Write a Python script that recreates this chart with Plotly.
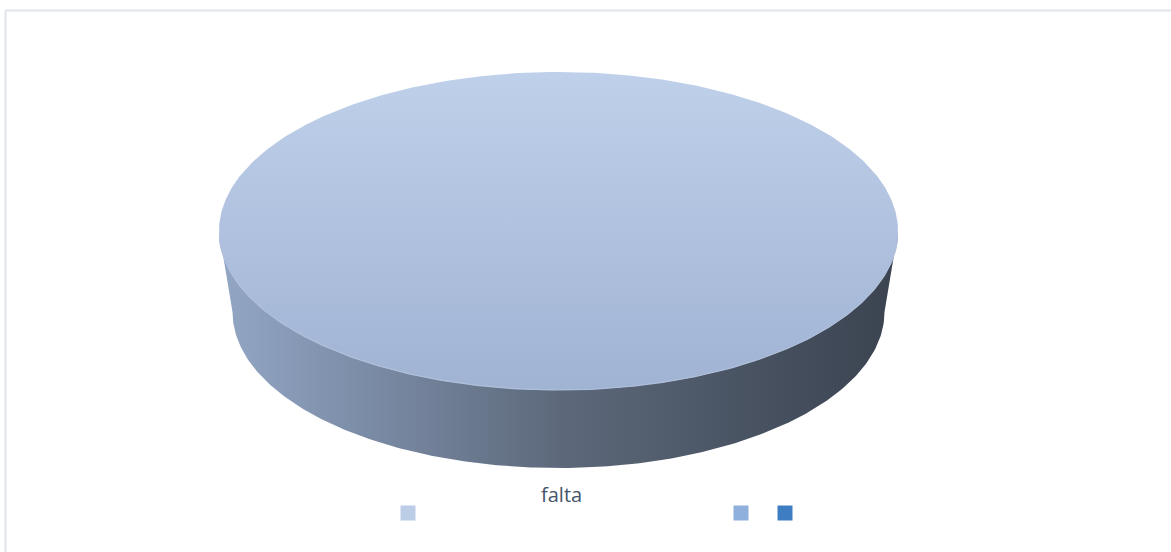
import numpy as np
import plotly.graph_objects as go

# ---- data ----
categories = ["falta", "", ""]
values = [1.0, 0.0, 0.0]          # single slice covering the whole pie
slice_top = ["#bccde8", "#8fb0dc", "#3f7dc3"]
legend_label = "falta"

# ---- geometry (page pixel units on hidden axes) ----
W, H = 1171, 552
TOP = dict(cx=558.5, cy=231.0, rx=339.5, ry=159.0)
BOT = dict(cx=558.5, cy=312.0, rx=326.0, ry=156.0)


def arc(e, a0, a1, n=240):
    t = np.linspace(a0, a1, n)
    return e["cx"] + e["rx"] * np.cos(t), e["cy"] + e["ry"] * np.sin(t)


fig = go.Figure()

total = float(sum(values))
start = -np.pi / 2
for cat, v in zip(categories, values):
    if v <= 0:
        continue
    sweep = 2 * np.pi * v / total
    a0, a1 = start, start + sweep
    f0, f1 = max(a0, 0.0), min(a1, np.pi)
    if a1 - a0 >= 2 * np.pi - 1e-9:
        f0, f1 = 0.0, np.pi
    if f1 > f0:
        xt, yt = arc(TOP, f0, f1)
        xb, yb = arc(BOT, f1, f0)
        fig.add_trace(go.Scatter(
            x=np.concatenate([xt, xb, xt[:1]]), y=np.concatenate([yt, yb, yt[:1]]),
            mode="lines", fill="toself", line=dict(width=0), hoverinfo="skip",
            fillgradient=dict(type="horizontal", start=219, stop=898,
                              colorscale=[[0, "#93a7c5"], [0.15, "#8294b0"],
                                          [0.5, "#5d697b"], [0.8, "#475160"],
                                          [1, "#3b4350"]]),
            showlegend=False))
    xt, yt = arc(TOP, a0, a1, 480)
    if a1 - a0 < 2 * np.pi - 1e-9:
        xt = np.concatenate([[TOP["cx"]], xt, [TOP["cx"]]])
        yt = np.concatenate([[TOP["cy"]], yt, [TOP["cy"]]])
    fig.add_trace(go.Scatter(
        x=xt, y=yt, mode="lines", fill="toself", line=dict(width=0),
        hoverinfo="skip", name=cat,
        fillgradient=dict(type="vertical", start=72, stop=390,
                          colorscale=[[0, "#bfd0ea"], [1, "#a0b3d3"]]),
        showlegend=False))
    xr, yr = arc(TOP, 0.05, np.pi - 0.05)
    fig.add_trace(go.Scatter(x=xr, y=yr, mode="lines",
                             line=dict(color="#aebfdb", width=1.2),
                             hoverinfo="skip", showlegend=False))
    start = a1

# ---- legend (drawn as markers) ----
leg_x = [408, 741, 785]
leg_y = [513, 513, 513]
fig.add_trace(go.Scatter(
    x=leg_x, y=leg_y, mode="markers", hoverinfo="skip", showlegend=False,
    marker=dict(symbol="square", size=15, color=slice_top, line=dict(width=0))))
fig.add_annotation(x=561, y=494, text=legend_label, showarrow=False,
                   font=dict(family="Open Sans", size=20, color="#44546a"),
                   xanchor="center", yanchor="middle")

# chart frame (only the top and left edges fall inside the picture)
fig.add_shape(type="line", x0=5.5, y0=10.5, x1=1400, y1=10.5,
              line=dict(color="#dfe4ee", width=2), layer="below")
fig.add_shape(type="line", x0=5.5, y0=10.5, x1=5.5, y1=800,
              line=dict(color="#dfe4ee", width=2), layer="below")

fig.update_layout(
    width=W, height=H, margin=dict(l=0, r=0, t=0, b=0),
    paper_bgcolor="white", plot_bgcolor="white",
    xaxis=dict(range=[0, W], visible=False, fixedrange=True),
    yaxis=dict(range=[H, 0], visible=False, fixedrange=True),
)

fig.write_html("out.html",
               config={"displayModeBar": False, "staticPlot": True},
               post_script="document.body.style.margin='0';"
                           "document.body.style.overflow='hidden';")
